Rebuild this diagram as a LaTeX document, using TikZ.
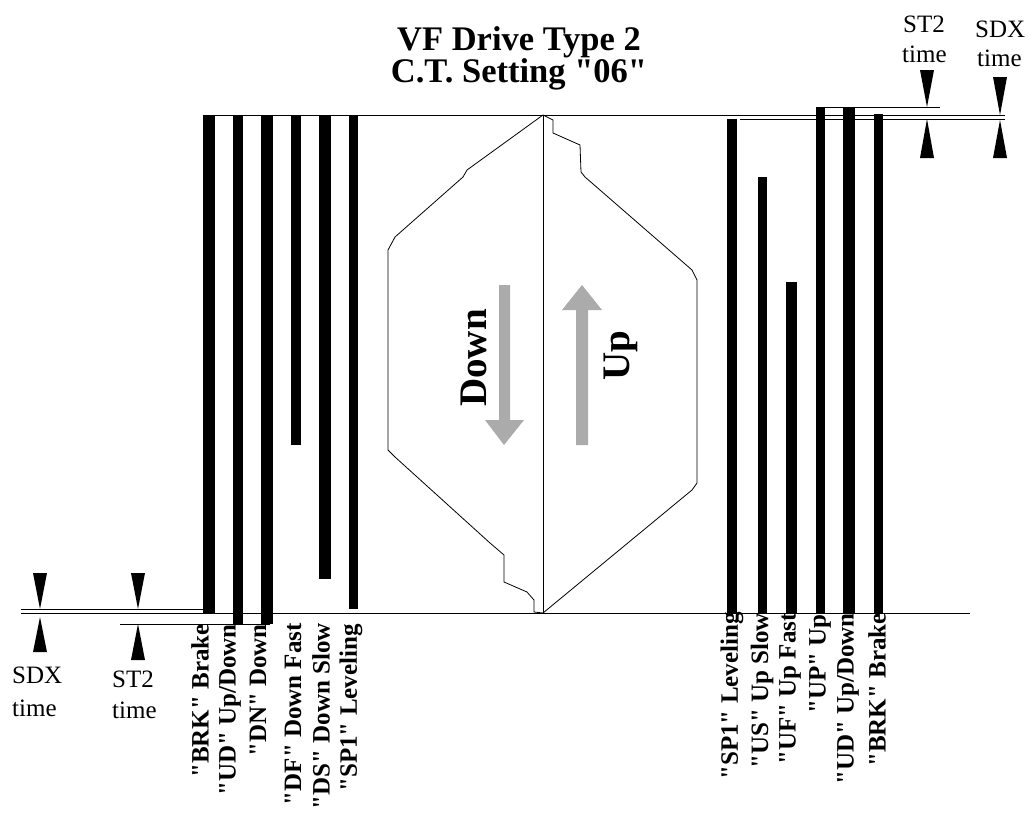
\documentclass[tikz,border=0pt]{standalone}
\usepackage{fontspec}
\setmainfont{Liberation Serif}[Ligatures=TeXOff]
\begin{document}
\begin{tikzpicture}[x=1pt,y=-1pt,
  ln/.style={line width=0.9pt},
  lbl/.style={rotate=90,anchor=east,font=\fontsize{25}{27}\selectfont\bfseries,inner sep=0pt},
  tlbl/.style={font=\fontsize{25}{27}\selectfont,inner sep=0pt,anchor=base west},
  ttl/.style={font=\fontsize{34.5}{36}\selectfont\bfseries,inner sep=0pt},
  big/.style={rotate=90,font=\fontsize{39}{40}\selectfont\bfseries,inner sep=0pt},
  garrow/.style={fill=black!33}]
\useasboundingbox (0,0) rectangle (1030,814);

% title
\node[ttl] (t1) at (519,42) {VF Drive Type 2};
\node[ttl] (t2) at (519,74) {C.T. Setting "06"};

% reference lines
\draw[ln] (203,115) -- (1005,115);
\draw[ln] (740,119) -- (1005,119);
\draw[ln] (817,107) -- (940,107);
\draw[ln] (21,613) -- (970,613);
\draw[ln] (21,609) -- (205,609);
\draw[ln] (120,624) -- (270,624);

% left bars
\fill (203,115) rectangle (215,614);
\fill (233,115) rectangle (243,624);
\fill (261,115) rectangle (273,624);
\fill (291,115) rectangle (301,445);
\fill (319,115) rectangle (331,579);
\fill (349,115) rectangle (358,609);

% right bars
\fill (727,119) rectangle (737,614);
\fill (758,177) rectangle (767,614);
\fill (786,282) rectangle (797,614);
\fill (816,107) rectangle (825,614);
\fill (843,107) rectangle (855,614);
\fill (874,114) rectangle (883,614);

% timing markers bottom left
\fill (33,573) -- (47,573) -- (40,609) -- cycle;
\fill (33,652) -- (47,652) -- (40,617) -- cycle;
\fill (131,573) -- (145,573) -- (138,609) -- cycle;
\fill (131,660) -- (145,660) -- (138,624) -- cycle;
% timing markers top right
\fill (920,70) -- (934,70) -- (927,107) -- cycle;
\fill (920,158) -- (934,158) -- (927,119) -- cycle;
\fill (993,77) -- (1007,77) -- (1000,115) -- cycle;
\fill (993,158) -- (1007,158) -- (1000,120) -- cycle;

% marker labels
\node[tlbl] (sdxa) at (12,683) {SDX};
\node[tlbl] (sdxb) at (12,716) {time};
\node[tlbl] (st2a) at (112,687) {ST2};
\node[tlbl] (st2b) at (112,718) {time};
\node[tlbl] (st2c) at (903,32) {ST2};
\node[tlbl] (st2d) at (902,62) {time};
\node[tlbl] (sdxc) at (975,37) {SDX};
\node[tlbl] (sdxd) at (977,66) {time};

% center profile
\draw[ln] (543,115) -- (543,613);
\draw[line width=0.8pt] (543,115) -- (467,170) -- (463,177) -- (395,237) -- (388,250)
  -- (388,450) -- (395,457) -- (490,543) -- (504,555) -- (504,582) -- (527,592)
  -- (534,600) -- (534,612) -- (543,613);
\draw[line width=0.8pt] (543,115) -- (553,120) -- (553,133) -- (580,145) -- (581,172)
  -- (585,177) -- (692,270) -- (697,280) -- (697,483) -- (692,490) -- (543,613);

% gray arrows
\fill[garrow] (499,285) -- (510,285) -- (510,420) -- (524,420) -- (504,445)
  -- (485,420) -- (499,420) -- cycle;
\fill[garrow] (576,445) -- (588,445) -- (588,310) -- (602,310) -- (582,285)
  -- (562,310) -- (576,310) -- cycle;
\node[big] (down) at (474,358) {Down};
\node[big] (up) at (621,356) {Up};

% left labels
\node[lbl] (l1) at (200,624) {"BRK" Brake};
\node[lbl] (l2) at (230,624) {"UD" Up/Down};
\node[lbl] (l3) at (258,624) {"DN" Down};
\node[lbl] (l4) at (293,623) {"DF" Down Fast};
\node[lbl] (l5) at (321,623) {"DS" Down Slow};
\node[lbl] (l6) at (351,624) {"SP1" Leveling};

% right labels
\node[lbl] (r1) at (732,612) {"SP1" Leveling};
\node[lbl] (r2) at (762,613) {"US" Up Slow};
\node[lbl] (r3) at (790,613) {"UF" Up Fast};
\node[lbl] (r4) at (820,614) {"UP" Up};
\node[lbl] (r5) at (848,613) {"UD" Up/Down};
\node[lbl] (r6) at (877,613) {"BRK" Brake};
\end{tikzpicture}
\end{document}
